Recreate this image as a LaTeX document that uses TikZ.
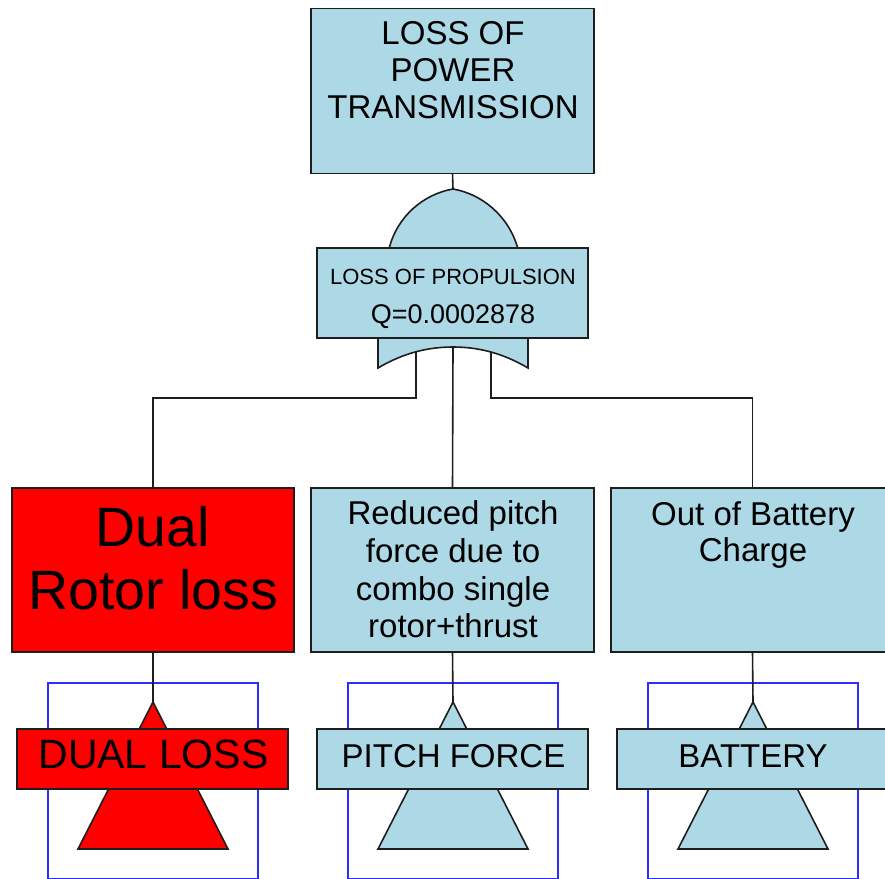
\documentclass[tikz,border=0pt]{standalone}
\usepackage{fontspec}
\setmainfont{Liberation Sans}
\definecolor{lb}{RGB}{173,216,230}
\definecolor{rd}{RGB}{255,0,0}
\definecolor{bl}{RGB}{45,45,255}
\definecolor{lc}{RGB}{30,30,30}
\begin{document}
\begin{tikzpicture}[x=1pt,y=-1pt,
  bx/.style={draw=lc,line width=1.6pt,inner sep=0pt,outer sep=0pt,anchor=north west},
  wire/.style={draw=lc,line width=1.6pt},
  txt/.style={align=center,inner sep=0pt,text=black},
  frame/.style={draw=bl,line width=1.5pt}]
\clip (0,0) rectangle (885,878);
% top event
\node[bx,fill=lb,minimum width=283pt,minimum height=165pt] (top) at (311,8.5) {};
\node[txt,font=\fontsize{33}{37}\selectfont] (toptxt) at (453,70) {LOSS OF\\POWER\\TRANSMISSION};
% OR gate
\coordinate (gapex) at (453,189);
\path[wire,fill=lb] (389,249) .. controls (397,216) and (424,194) .. (gapex) .. controls (482,194) and (509,216) .. (518,249) -- cycle;
\path[wire,fill=lb] (378,338) -- (378,368) .. controls (405,352) and (430,347) .. (453,347) .. controls (476,347) and (501,352) .. (528,368) -- (528,338);
\coordinate (gL) at (416,352);
\coordinate (gC) at (453,347);
\coordinate (gR) at (491,352);
\node[bx,fill=lb,minimum width=271pt,minimum height=90pt] (prop) at (317,248) {};
\node[txt,anchor=base,font=\fontsize{22}{26}\selectfont] (proptxt) at (453,284) {LOSS OF PROPULSION};
\node[txt,anchor=base,font=\fontsize{27}{30}\selectfont] (qtxt) at (453,323) {Q=0.0002878};
\draw[wire] (top.south) -- (gapex);
% events
\node[bx,fill=rd,minimum width=282pt,minimum height=164pt] (e1) at (12,488) {};
\node[bx,fill=lb,minimum width=283pt,minimum height=164pt] (e2) at (311,488) {};
\node[bx,fill=lb,minimum width=283pt,minimum height=164pt] (e3) at (611,488) {};
\node[txt,font=\fontsize{55.5}{63}\selectfont] (e1txt) at (153,558.5) {Dual\\Rotor loss};
\node[txt,font=\fontsize{33}{37.7}\selectfont] (e2txt) at (453,569.5) {Reduced pitch\\force due to\\combo single\\rotor+thrust};
\node[txt,font=\fontsize{33}{36}\selectfont] (e3txt) at (753,534.5) {Out of Battery\\Charge};
\draw[wire] (gL) -- ++(0,46) -| (e1.north);
\draw[wire] (gC) -- (e2.north);
\draw[wire] (gR) -- ++(0,46) -| (e3.north);
% transfer 1
\draw[frame] (48,683) rectangle (258,879);
\coordinate (a1) at (153,702);
\path[wire,fill=rd] (a1) -- (228,849) -- (78,849) -- cycle;
\node[bx,fill=rd,minimum width=271pt,minimum height=60pt] (l1) at (17,729) {};
\node[txt,font=\fontsize{41}{44}\selectfont] (l1txt) at (153.5,754.5) {DUAL LOSS};
\draw[wire] (e1.south) -- (a1);
% transfer 2
\draw[frame] (348,683) rectangle (558,879);
\coordinate (a2) at (453,702);
\path[wire,fill=lb] (a2) -- (528,849) -- (378,849) -- cycle;
\node[bx,fill=lb,minimum width=271pt,minimum height=60pt] (l2) at (317,729) {};
\node[txt,font=\fontsize{33}{36}\selectfont] (l2txt) at (453.5,756) {PITCH FORCE};
\draw[wire] (e2.south) -- (a2);
% transfer 3
\draw[frame] (648,683) rectangle (858,879);
\coordinate (a3) at (753,702);
\path[wire,fill=lb] (a3) -- (828,849) -- (678,849) -- cycle;
\node[bx,fill=lb,minimum width=271pt,minimum height=60pt] (l3) at (617,729) {};
\node[txt,font=\fontsize{33}{36}\selectfont] (l3txt) at (753,756) {BATTERY};
\draw[wire] (e3.south) -- (a3);
\end{tikzpicture}
\end{document}
